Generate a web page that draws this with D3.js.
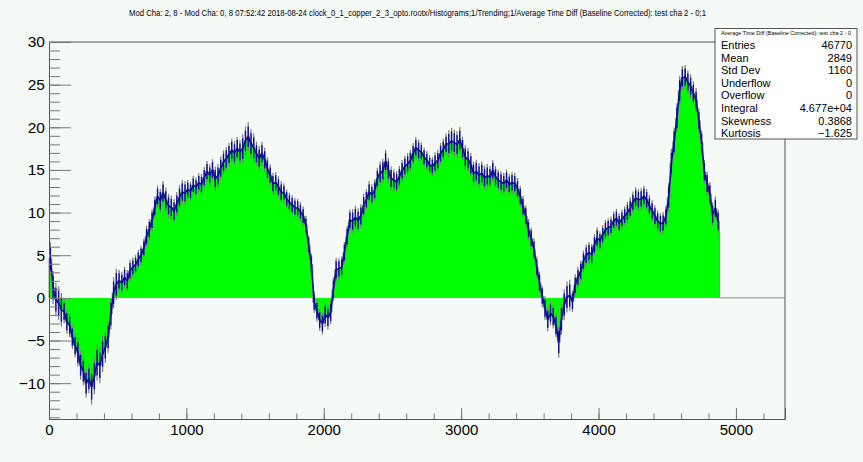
<!DOCTYPE html>
<html>
<head>
<meta charset="utf-8">
<script src="https://cdn.jsdelivr.net/npm/d3@7"></script>
<style>
  body { margin: 0; background: #f5faf7; }
  text { font-family: "Liberation Sans", Arial, sans-serif; }
</style>
</head>
<body>
<svg id="chart" width="863" height="462"></svg>
<script>
const titleText = "Mod Cha:  2, 8 - Mod Cha:  0, 8  07:52:42  2018-08-24  clock_0_1_copper_2_3_opto.rootx/Histograms;1/Trending;1/Average Time Diff (Baseline Corrected): test cha  2 -  0;1";
const statsTitle = "Average Time Diff (Baseline Corrected): test cha  2 -  0";
const statsLabels = ["Entries", "Mean", "Std Dev", "Underflow", "Overflow", "Integral", "Skewness", "Kurtosis"];
const statsValues = ["46770", "2849", "1160", "0", "0", "4.677e+04", "0.3868", "\u22121.625"];

const xTickValues = [0, 1000, 2000, 3000, 4000, 5000];
const yTickValues = [-10, -5, 0, 5, 10, 15, 20, 25, 30];

// one value per 20-unit bin, starting at 0
const binWidth = 20;
const binValues = [
  4.6, 1.2, -0.2, -0.6, -1.4,   -1.6, -2.8, -3.2, -4.6, -5.6,
  -6.4, -7.9, -8.6, -10.0, -9.5, -10.4, -9.2, -7.6, -7.9, -6.6,
  -5.8, -4.6, -1.9, 0.6, 1.6,   2.0, 1.8, 2.4, 2.0, 3.2,
  3.6, 3.9, 4.5, 5.0, 5.8,      7.2, 8.0, 9.1, 10.6, 11.9,
  11.4, 12.3, 11.5, 10.8, 10.6, 10.2, 11.0, 11.8, 12.4, 12.3,
  12.7, 12.5, 13.2, 13.0, 13.5, 13.3, 14.1, 14.8, 14.4, 15.0,
  14.0, 14.3, 15.2, 15.9, 16.3, 16.8, 17.3, 17.0, 17.5, 17.1,
  17.5, 18.4, 18.9, 18.1, 17.6, 16.9, 16.4, 16.9, 16.2, 15.1,
  14.4, 13.4, 13.5, 13.0, 12.4, 12.3, 11.6, 11.2, 10.9, 10.6,
  10.5, 10.1, 9.6, 8.5, 6.2,    3.9, -0.5, -1.5, -2.6, -3.0,
  -2.0, -2.3, -1.7, 1.0, 3.3,   3.4, 3.6, 5.3, 7.2, 9.1,
  9.0, 9.4, 9.1, 9.6, 10.8,     11.5, 12.4, 12.1, 12.6, 14.0,
  14.6, 14.9, 16.0, 15.0, 14.0, 13.8, 13.6, 14.2, 14.9, 15.4,
  15.7, 16.1, 16.9, 17.6, 17.3, 17.1, 16.5, 16.1, 15.6, 15.4,
  15.8, 16.1, 16.9, 17.4, 18.0, 18.1, 18.4, 18.2, 18.0, 18.5,
  17.5, 16.5, 16.2, 15.6, 14.6, 14.8, 14.4, 14.6, 14.1, 14.3,
  14.2, 14.9, 14.2, 13.8, 13.6, 13.4, 13.8, 13.3, 13.5, 13.4,
  12.8, 11.9, 10.7, 9.6, 8.0,   7.0, 5.7, 3.6, 1.8, 0.2,
  -1.2, -2.5, -1.8, -2.2, -3.2, -5.2, -2.5, -0.8, 0.1, 0.3,
  -0.4, 1.5, 2.4, 3.1, 4.3,     5.0, 5.3, 5.1, 6.2, 7.0,
  6.7, 7.4, 8.0, 8.2, 8.4,      9.0, 9.3, 8.8, 9.2, 9.6,
  10.0, 10.5, 11.2, 11.7, 11.5, 11.6, 11.9, 11.5, 10.8, 10.2,
  9.6, 9.0, 8.7, 8.8, 9.5,      11.8, 15.8, 18.3, 21.1, 24.3,
  25.8, 25.9, 25.3, 24.8, 24.0, 23.2, 20.8, 18.2, 14.8, 13.4,
  12.2, 9.8, 10.5, 9.0
];
// spread of the bin errors, one per 100 units
const groupErrors = [
  1.4, 1.0, 1.2, 1.5, 1.3, 0.9, 0.8, 0.9, 1.0, 1.0,
  0.8, 0.9, 1.0, 1.0, 1.2, 1.0, 0.9, 0.8, 0.8, 0.9,
  1.0, 0.9, 1.0, 0.9, 1.0, 0.9, 0.9, 0.8, 0.9, 1.1,
  1.0, 1.0, 0.9, 0.9, 0.9, 0.9, 1.0, 1.3, 0.9, 0.9,
  0.8, 0.8, 0.9, 0.9, 0.9, 1.2, 1.0, 1.0, 1.0
];
const xMax = 5357;
const yMin = -14.2, yMax = 30;

const svg = d3.select("#chart");
svg.append("rect").attr("width", 863).attr("height", 462).attr("fill", "#f5faf7");

const x = d3.scaleLinear().domain([0, xMax]).range([49, 785]);
const y = d3.scaleLinear().domain([yMin, yMax]).range([419, 42]);

const bins = binValues.map(function (v, i) {
    return { x0: i * binWidth, v: v, e: groupErrors[Math.floor(i * binWidth / 100)] };
});
const steps = bins.concat([{ x0: bins.length * binWidth, v: binValues[binValues.length - 1] }]);

// green fill
svg.append("path")
    .datum(steps)
    .attr("fill", "#00ff00")
    .attr("d", d3.area()
        .curve(d3.curveStepAfter)
        .x(function (d) { return x(d.x0); })
        .y0(y(0))
        .y1(function (d) { return y(d.v); }));

// gray outline, continuing at zero after the last filled bin
const outline = [{ x0: 0, v: 0 }].concat(steps, [{ x0: bins.length * binWidth, v: 0 }, { x0: xMax, v: 0 }]);
svg.append("path")
    .datum(outline)
    .attr("fill", "none")
    .attr("stroke", "#8a8a8a")
    .attr("stroke-width", 1)
    .attr("d", d3.line()
        .curve(d3.curveStepAfter)
        .x(function (d) { return x(d.x0); })
        .y(function (d) { return y(d.v); }));

// gray error bars
svg.append("g").selectAll("line")
    .data(bins)
    .join("line")
    .attr("x1", function (d) { return x(d.x0 + binWidth / 2); })
    .attr("x2", function (d) { return x(d.x0 + binWidth / 2); })
    .attr("y1", function (d) { return y(d.v - d.e * 1.4); })
    .attr("y2", function (d) { return y(d.v + d.e * 1.4); })
    .attr("stroke", "#7a7a7a")
    .attr("stroke-width", 1.2);

// blue band
svg.append("path")
    .datum(bins)
    .attr("fill", "none")
    .attr("stroke", "#0c0c96")
    .attr("stroke-width", 1.6)
    .attr("d", d3.line()
        .x(function (d) { return x(d.x0 + binWidth / 2); })
        .y(function (d) { return y(d.v); }));

svg.append("g").selectAll("line")
    .data(bins)
    .join("line")
    .attr("x1", function (d) { return x(d.x0 + binWidth / 2); })
    .attr("x2", function (d) { return x(d.x0 + binWidth / 2); })
    .attr("y1", function (d) { return y(d.v - d.e); })
    .attr("y2", function (d) { return y(d.v + d.e); })
    .attr("stroke", "#0c0c96")
    .attr("stroke-width", 1.4);

// frame
svg.append("path")
    .attr("d", "M" + x(0) + "," + y(yMax) + "H" + x(xMax) + "V" + y(yMin))
    .attr("fill", "none")
    .attr("stroke", "#555")
    .attr("stroke-width", 1);

// axes
const xAxis = svg.append("g")
    .attr("transform", "translate(0," + y(yMin) + ")")
    .call(d3.axisBottom(x).tickValues(xTickValues).tickSize(-11).tickPadding(5).tickFormat(d3.format("d")));
svg.append("g")
    .attr("transform", "translate(0," + y(yMin) + ")")
    .call(d3.axisBottom(x).tickValues(d3.range(0, 5357, 200)).tickSize(-5.5).tickFormat(""))
    .select(".domain").remove();

const yAxis = svg.append("g")
    .attr("transform", "translate(" + x(0) + ",0)")
    .call(d3.axisLeft(y).tickValues(yTickValues).tickSize(-22).tickPadding(4));
svg.append("g")
    .attr("transform", "translate(" + x(0) + ",0)")
    .call(d3.axisLeft(y).tickValues(d3.range(-14, 31, 1)).tickSize(-11).tickFormat(""))
    .select(".domain").remove();

svg.selectAll(".domain").attr("stroke", "#555");
svg.selectAll(".tick line").attr("stroke", "#777");
xAxis.selectAll("text").attr("font-size", 15).attr("fill", "#000").attr("font-family", "Liberation Sans");
yAxis.selectAll("text").attr("font-size", 15.5).attr("fill", "#000").attr("font-family", "Liberation Sans");

// title
svg.append("text")
    .attr("x", 129)
    .attr("y", 16)
    .attr("font-size", 8.5)
    .attr("textLength", 577)
    .attr("lengthAdjust", "spacingAndGlyphs")
    .attr("fill", "#000")
    .text(titleText);

// stats box
const stats = svg.append("g");
stats.append("rect")
    .attr("x", 715).attr("y", 28.5)
    .attr("width", 142).attr("height", 110.5)
    .attr("fill", "#fff")
    .attr("stroke", "#555")
    .attr("stroke-width", 1);
stats.append("text")
    .attr("x", 721).attr("y", 35)
    .attr("font-size", 5.5)
    .attr("textLength", 130)
    .attr("lengthAdjust", "spacingAndGlyphs")
    .text(statsTitle);
stats.selectAll("text.lab")
    .data(statsLabels)
    .join("text")
    .attr("class", "lab")
    .attr("x", 721)
    .attr("y", function (d, i) { return 49 + i * 12.6; })
    .attr("font-size", 11)
    .text(function (d) { return d; });
stats.selectAll("text.val")
    .data(statsValues)
    .join("text")
    .attr("class", "val")
    .attr("x", 852)
    .attr("y", function (d, i) { return 49 + i * 12.6; })
    .attr("font-size", 11)
    .attr("text-anchor", "end")
    .text(function (d) { return d; });
</script>
</body>
</html>
